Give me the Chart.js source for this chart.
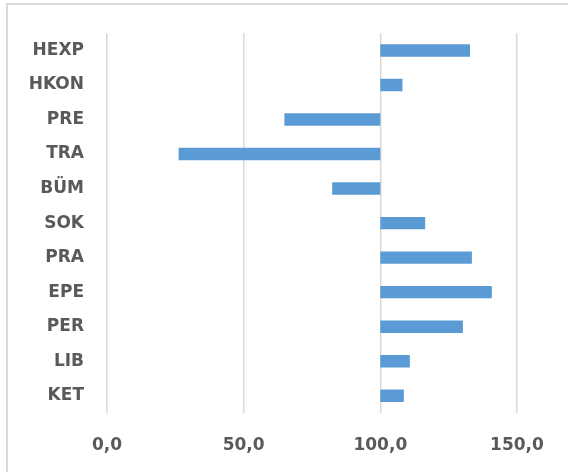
<!DOCTYPE html>
<html>
<head>
<meta charset="utf-8">
<script src="https://cdn.jsdelivr.net/npm/chart.js@4"></script>
<style>
  body { margin: 0; background: #fff; }
  #wrap { position: relative; width: 568px; height: 472px; overflow: hidden; }
  #frame { position: absolute; left: 6px; top: 3px; width: 600px; height: 520px; border: 2px solid #d9d9d9; }
  canvas { position: absolute; left: 0; top: 0; }
</style>
</head>
<body>
<div id="wrap">
  <div id="frame"></div>
  <canvas id="chart" width="568" height="472"></canvas>
</div>
<script>
// categories top to bottom
var categories = ["HEXP", "HKON", "PRE", "TRA", "BÜM", "SOK", "PRA", "EPE", "PER", "LIB", "KET"];
var baseValue = 100;
var values = [132.8, 108.1, 64.9, 26.2, 82.4, 116.4, 133.5, 140.8, 130.2, 110.8, 108.6];
var xTicks = [0, 50, 100, 150];

// bars float from the 100 line to the value
var floating = values.map(function(v) { return [baseValue, v]; });

var labelFont = { family: "DejaVu Sans", size: 17, weight: "bold" };

var ctx = document.getElementById("chart");
var myChart = new Chart(ctx, {
    type: "bar",
    data: {
        labels: categories,
        datasets: [{
            data: floating,
            backgroundColor: "#5b9bd5",
            borderWidth: 0,
            categoryPercentage: 1,
            barPercentage: 0.36
        }]
    },
    options: {
        responsive: false,
        animation: false,
        devicePixelRatio: 1,
        indexAxis: "y",
        layout: { padding: { top: 33, right: 51, bottom: 0, left: 0 } },
        plugins: { legend: { display: false }, tooltip: { enabled: false } },
        scales: {
            x: {
                min: 0,
                max: 150,
                afterBuildTicks: function(scale) {
                    scale.ticks = xTicks.map(function(v) { return { value: v }; });
                },
                afterFit: function(scale) { scale.height = 59; },
                grid: { color: "#d9d9d9", lineWidth: 1.5, drawTicks: false },
                border: { display: false },
                ticks: {
                    padding: 22,
                    color: "#595959",
                    font: labelFont,
                    callback: function(v) { return v.toFixed(1).replace(".", ","); }
                }
            },
            y: {
                afterFit: function(scale) { scale.width = 107; },
                grid: { display: false, drawTicks: false },
                border: { display: false },
                ticks: {
                    padding: 23,
                    color: "#595959",
                    font: labelFont
                }
            }
        }
    }
});
</script>
</body>
</html>
